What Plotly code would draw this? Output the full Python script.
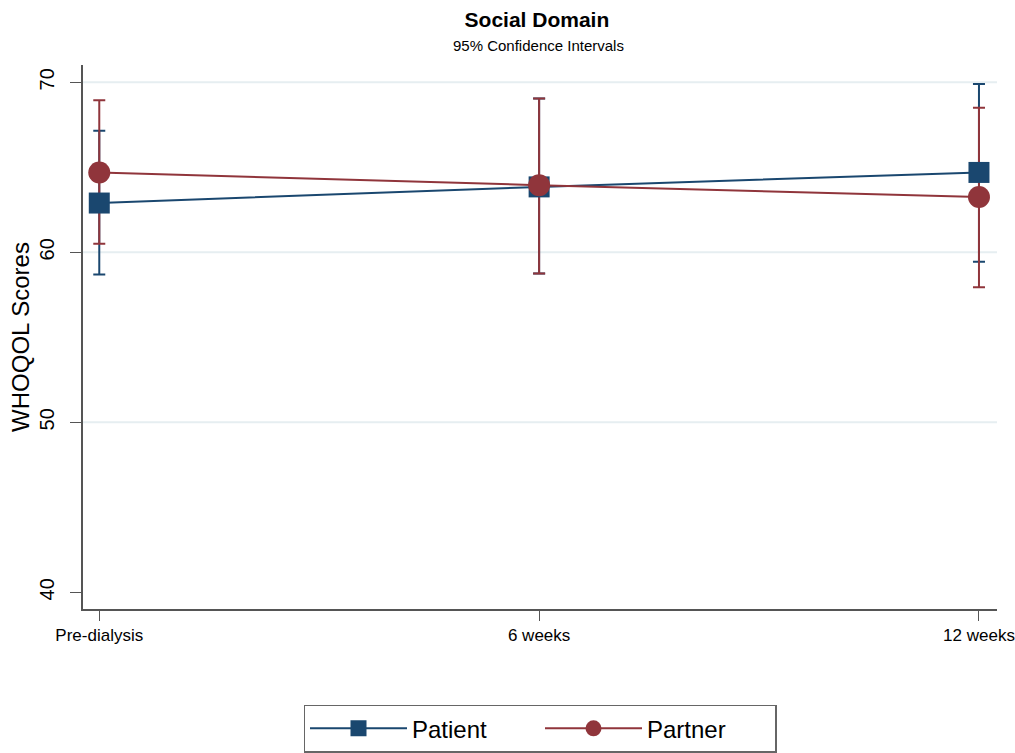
import plotly.graph_objects as go

# Time points and WHOQOL social-domain scores (means with 95% CI limits)
time_labels = ["Pre-dialysis", "6 weeks", "12 weeks"]
time_pos = [0, 1, 2]

patient_mean = [62.9, 63.85, 64.7]
patient_lo = [58.7, 58.75, 59.45]
patient_hi = [67.15, 69.05, 69.9]

partner_mean = [64.7, 63.95, 63.25]
partner_lo = [60.5, 58.75, 57.95]
partner_hi = [68.95, 69.05, 68.5]

y_ticks = [40, 50, 60, 70]
grid_values = [50, 60, 70]

NAVY = "#1a476f"
MAROON = "#90353b"
FONT = "Liberation Sans, Arial, sans-serif"


def ci_errors(mean, lo, hi, color):
    return dict(
        type="data",
        symmetric=False,
        array=[h - m for h, m in zip(hi, mean)],
        arrayminus=[m - l for m, l in zip(mean, lo)],
        color=color,
        thickness=2,
        width=6,
    )


fig = go.Figure()

# Confidence-interval caps first, so the markers sit on top of them
for mean, lo, hi, color in [
    (patient_mean, patient_lo, patient_hi, NAVY),
    (partner_mean, partner_lo, partner_hi, MAROON),
]:
    fig.add_trace(go.Scatter(
        x=time_pos, y=mean, mode="markers",
        marker=dict(opacity=0, size=2, color=color),
        error_y=ci_errors(mean, lo, hi, color),
        showlegend=False, hoverinfo="skip",
    ))

fig.add_trace(go.Scatter(
    x=time_pos, y=patient_mean, name="Patient", mode="lines+markers",
    line=dict(color=NAVY, width=2),
    marker=dict(symbol="square", size=21, color=NAVY),
))
fig.add_trace(go.Scatter(
    x=time_pos, y=partner_mean, name="Partner", mode="lines+markers",
    line=dict(color=MAROON, width=2),
    marker=dict(symbol="circle", size=22, color=MAROON),
))

# Light horizontal grid lines at the labelled levels above the axis floor
for g in grid_values:
    fig.add_shape(type="line", xref="paper", yref="y", x0=0, x1=1, y0=g, y1=g,
                  line=dict(color="#e6eef1", width=2), layer="below")

# Subtitle under the main title
fig.add_annotation(
    text="95% Confidence Intervals", xref="paper", yref="paper",
    x=0.498, y=1.035, xanchor="center", yanchor="middle", showarrow=False,
    font=dict(family=FONT, size=15, color="black"),
)

fig.update_layout(
    width=1015, height=753,
    margin=dict(l=83, r=18, t=65, b=144, autoexpand=False),
    paper_bgcolor="white", plot_bgcolor="white",
    title=dict(
        text="<b>Social Domain</b>",
        x=0.529, xanchor="center", xref="container",
        y=0.974, yanchor="middle", yref="container",
        font=dict(family=FONT, size=21, color="black"),
    ),
    xaxis=dict(
        range=[-0.037, 2.041], tickvals=time_pos, ticktext=time_labels,
        showgrid=False, zeroline=False,
        showline=True, linecolor="#555555", linewidth=1.5,
        ticks="outside", ticklen=10, tickwidth=1.2, tickcolor="#555555",
        ticklabeloverflow="allow",
        tickfont=dict(family=FONT, size=17, color="black"),
    ),
    yaxis=dict(
        range=[39.02, 71.02], tickvals=y_ticks,
        showgrid=False, zeroline=False,
        showline=True, linecolor="#555555", linewidth=1.5,
        ticks="outside", ticklen=11, tickwidth=1.2, tickcolor="#555555",
        tickangle=-90, ticklabelstandoff=8,
        tickfont=dict(family=FONT, size=20, color="black"),
        title=dict(text="WHOQOL Scores", standoff=0,
                   font=dict(family=FONT, size=24, color="black")),
    ),
    legend=dict(
        orientation="h", x=0.5, xanchor="center", y=-0.176, yanchor="top",
        bordercolor="#666666", borderwidth=1.5, bgcolor="white",
        font=dict(family=FONT, size=24, color="black"),
        itemwidth=97, entrywidth=123,
    ),
)

fig.write_html("out.html")
